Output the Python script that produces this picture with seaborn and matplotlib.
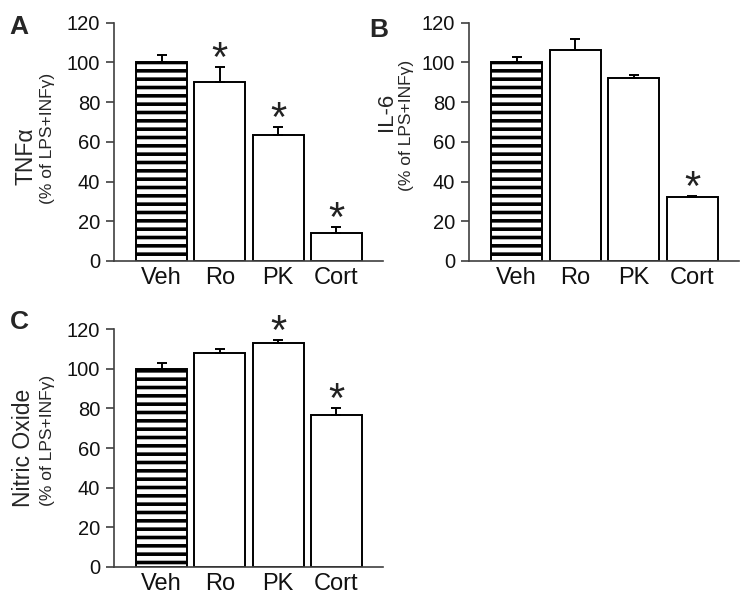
import matplotlib
matplotlib.use('Agg')
import matplotlib.pyplot as plt
import seaborn as sns
import pandas as pd

groups = ['Veh', 'Ro', 'PK', 'Cort']

tnf_mean = [100, 90.3, 63.3, 14.3]
tnf_sem = [3.6, 7.3, 4.3, 2.6]
tnf_sig = [False, True, True, True]

il6_mean = [100, 106.1, 92.0, 32.1]
il6_sem = [2.9, 5.5, 1.5, 0.5]
il6_sig = [False, False, False, True]

no_mean = [100, 107.8, 112.9, 76.8]
no_sem = [3.2, 2.4, 1.7, 3.2]
no_sig = [False, False, True, True]

yticks = [0, 20, 40, 60, 80, 100, 120]

sns.set_theme(style='ticks')
plt.rcParams['font.family'] = ['Liberation Sans', 'DejaVu Sans']
plt.rcParams['hatch.linewidth'] = 2.6
plt.rcParams['hatch.color'] = 'black'

W, H = 750, 609
fig = plt.figure(figsize=(7.5, 6.09), dpi=100)


def px_axes(x0, x1, ytop, ybot):
    return fig.add_axes([x0 / W, 1 - ybot / H, (x1 - x0) / W, (ybot - ytop) / H])


def panel(ax, means, sems, sig):
    df = pd.DataFrame({'group': groups, 'value': means})
    sns.barplot(data=df, x='group', y='value', color='white', saturation=1,
                edgecolor='black', linewidth=1.4, width=0.875, errorbar=None, ax=ax)
    ax.patches[0].set_hatch('--')
    pos = list(range(len(groups)))
    ax.errorbar(pos, means, yerr=[[0] * len(means), sems], fmt='none',
                ecolor='black', elinewidth=1.4, capsize=3.5, capthick=1.4, zorder=5)
    # significance stars just above the error caps
    for i, (m, s, star) in enumerate(zip(means, sems, sig)):
        if star:
            ax.annotate('*', (i, m + s), xytext=(0, -2.8), textcoords='offset points',
                        ha='center', va='baseline', fontsize=30, color='#222222')
    ax.set_xlim(-0.815, 3.8)
    ax.set_ylim(0, 120)
    ax.set_yticks(yticks)
    ax.set_xlabel('')
    ax.set_ylabel('')
    sns.despine(ax=ax)
    for sp in ['left', 'bottom']:
        ax.spines[sp].set_color('#404040')
        ax.spines[sp].set_linewidth(1.2)
    ax.tick_params(axis='y', direction='out', length=6, width=1.2, color='#404040',
                   labelsize=14.5, pad=4, labelcolor='#111111')
    ax.tick_params(axis='x', length=0, labelsize=17, pad=4.5, labelcolor='#111111')


ax_a = px_axes(114, 383, 22.7, 261)
panel(ax_a, tnf_mean, tnf_sem, tnf_sig)
ax_b = px_axes(469, 739, 22.7, 261)
panel(ax_b, il6_mean, il6_sem, il6_sig)
ax_c = px_axes(114, 383, 329.3, 566.7)
panel(ax_c, no_mean, no_sem, no_sig)

sub = '(% of LPS+INF\u03b3)'
fig.text(26 / W, 1 - 156 / H, 'TNF\u03b1', rotation=90, ha='center', va='center', fontsize=16.5)
fig.text(48 / W, 1 - 138 / H, sub, rotation=90, ha='center', va='center', fontsize=12.5)
fig.text(386 / W, 1 - 112 / H, 'IL-6', rotation=90, ha='center', va='center', fontsize=16)
fig.text(407 / W, 1 - 125 / H, sub, rotation=90, ha='center', va='center', fontsize=12.5)
fig.text(24 / W, 1 - 447.5 / H, 'Nitric Oxide', rotation=90, ha='center', va='center', fontsize=16.5)
fig.text(48 / W, 1 - 440 / H, sub, rotation=90, ha='center', va='center', fontsize=12.5)

# panel letters
fig.text(19 / W, 1 - 27 / H, 'A', ha='center', va='center', fontsize=19, fontweight='bold')
fig.text(379 / W, 1 - 30 / H, 'B', ha='center', va='center', fontsize=19, fontweight='bold')
fig.text(19 / W, 1 - 322 / H, 'C', ha='center', va='center', fontsize=19, fontweight='bold')

fig.savefig('out.png', dpi=100)
